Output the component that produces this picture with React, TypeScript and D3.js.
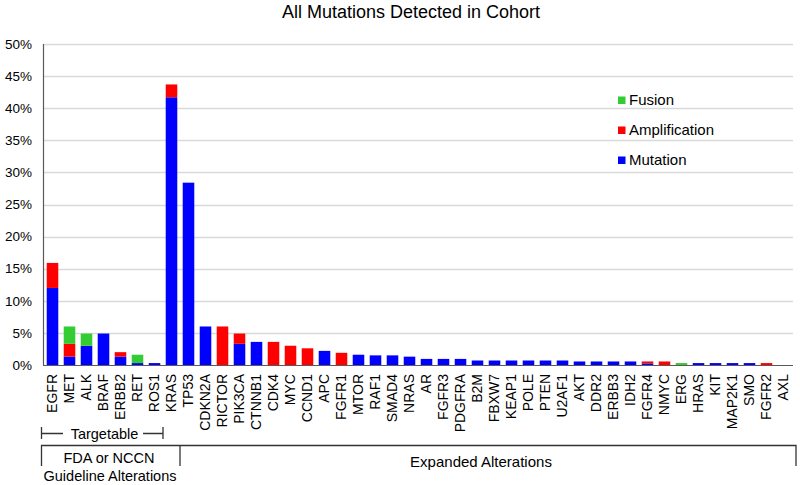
import React, { useRef, useEffect } from 'react';
import * as d3 from 'd3';

const genes = [
  'EGFR', 'MET', 'ALK', 'BRAF', 'ERBB2', 'RET', 'ROS1', 'KRAS', 'TP53', 'CDKN2A',
  'RICTOR', 'PIK3CA', 'CTNNB1', 'CDK4', 'MYC', 'CCND1', 'APC', 'FGFR1', 'MTOR', 'RAF1',
  'SMAD4', 'NRAS', 'AR', 'FGFR3', 'PDGFRA', 'B2M', 'FBXW7', 'KEAP1', 'POLE', 'PTEN',
  'U2AF1', 'AKT', 'DDR2', 'ERBB3', 'IDH2', 'FGFR4', 'NMYC', 'ERG', 'HRAS', 'KIT',
  'MAP2K1', 'SMO', 'FGFR2', 'AXL'
];

// percent of cohort
const mutation = [
  12.0, 1.3, 3.0, 4.9, 1.3, 0.3, 0.3, 41.7, 28.4, 6.0,
  0, 3.3, 3.6, 0, 0, 0, 2.2, 0, 1.6, 1.5,
  1.5, 1.3, 0.95, 0.95, 0.95, 0.7, 0.7, 0.7, 0.7, 0.7,
  0.7, 0.55, 0.55, 0.55, 0.55, 0.25, 0, 0, 0.3, 0.3,
  0.3, 0.3, 0, 0
];
const amplification = [
  3.9, 2.0, 0, 0, 0.7, 0, 0, 2.0, 0, 0,
  6.0, 1.6, 0, 3.6, 3.0, 2.6, 0, 1.9, 0, 0,
  0, 0, 0, 0, 0, 0, 0, 0, 0, 0,
  0, 0, 0, 0, 0, 0.3, 0.55, 0, 0, 0,
  0, 0, 0.3, 0
];
const fusion = [
  0, 2.7, 1.9, 0, 0, 1.3, 0, 0, 0, 0,
  0, 0, 0, 0, 0, 0, 0, 0, 0, 0,
  0, 0, 0, 0, 0, 0, 0, 0, 0, 0,
  0, 0, 0, 0, 0, 0, 0, 0.3, 0, 0,
  0, 0, 0, 0
];

const seriesKeys = ['Mutation', 'Amplification', 'Fusion'];
const seriesColors = { Mutation: '#0000ff', Amplification: '#ff0000', Fusion: '#33cc33' };
const legendOrder = ['Fusion', 'Amplification', 'Mutation'];
const yTicks = [0, 5, 10, 15, 20, 25, 30, 35, 40, 45, 50];

const FONT = '"Liberation Sans", Arial, sans-serif';

function App() {
  const svgRef = useRef(null);

  useEffect(() => {
    const svg = d3.select(svgRef.current);
    svg.selectAll('*').remove();

    const left = 43, right = 792, top = 44, bottom = 365;

    const rows = genes.map((g, i) => ({
      gene: g,
      Mutation: mutation[i],
      Amplification: amplification[i],
      Fusion: fusion[i]
    }));

    const x = d3.scaleBand()
      .domain(genes)
      .range([left + 1, right])
      .paddingInner(0.32)
      .paddingOuter(0.16);

    const y = d3.scaleLinear().domain([0, 50]).range([bottom, top]);

    // title
    svg.append('text')
      .attr('x', 411)
      .attr('y', 18)
      .attr('text-anchor', 'middle')
      .style('font-family', FONT)
      .style('font-size', '18px')
      .text('All Mutations Detected in Cohort');

    // gridlines
    svg.append('g')
      .selectAll('line')
      .data(yTicks.filter(t => t > 0))
      .enter()
      .append('line')
      .attr('x1', left)
      .attr('x2', right + 1)
      .attr('y1', d => Math.round(y(d)) + 0.5)
      .attr('y2', d => Math.round(y(d)) + 0.5)
      .attr('stroke', '#d9d9d9')
      .attr('stroke-width', 1.5);

    // y tick labels
    svg.append('g')
      .selectAll('text')
      .data(yTicks)
      .enter()
      .append('text')
      .attr('x', 32)
      .attr('y', d => y(d))
      .attr('dy', '0.35em')
      .attr('text-anchor', 'end')
      .style('font-family', FONT)
      .style('font-size', '13.5px')
      .text(d => d + '%');

    // stacked bars
    const stacked = d3.stack().keys(seriesKeys)(rows);
    svg.append('g')
      .selectAll('g')
      .data(stacked)
      .enter()
      .append('g')
      .attr('fill', d => seriesColors[d.key])
      .selectAll('rect')
      .data(d => d.filter(s => s[1] - s[0] > 0))
      .enter()
      .append('rect')
      .attr('x', d => x(d.data.gene))
      .attr('width', x.bandwidth())
      .attr('y', d => y(d[1]))
      .attr('height', d => y(d[0]) - y(d[1]));

    // axes lines
    svg.append('line')
      .attr('x1', left + 0.5).attr('x2', left + 0.5)
      .attr('y1', top).attr('y2', bottom)
      .attr('stroke', '#595959').attr('stroke-width', 1.2);
    svg.append('line')
      .attr('x1', left).attr('x2', right + 1)
      .attr('y1', bottom + 0.5).attr('y2', bottom + 0.5)
      .attr('stroke', '#595959').attr('stroke-width', 1.2);

    // x labels
    svg.append('g')
      .selectAll('text')
      .data(genes)
      .enter()
      .append('text')
      .attr('transform', d => `translate(${x(d) + x.bandwidth() / 2},374) rotate(-90)`)
      .attr('dy', '0.35em')
      .attr('text-anchor', 'end')
      .style('font-family', FONT)
      .style('font-size', '14px')
      .text(d => d);

    // legend
    const legend = svg.append('g')
      .selectAll('g')
      .data(legendOrder)
      .enter()
      .append('g')
      .attr('transform', (d, i) => `translate(618,${105 + i * 30})`);
    legend.append('rect')
      .attr('x', 0)
      .attr('y', -8.5)
      .attr('width', 7.5)
      .attr('height', 7.5)
      .attr('fill', d => seriesColors[d]);
    legend.append('text')
      .attr('x', 11)
      .attr('y', 0)
      .style('font-family', FONT)
      .style('font-size', '15px')
      .text(d => d);

    // bottom annotations
    const ann = svg.append('g')
      .attr('stroke', '#333')
      .attr('stroke-width', 1.3)
      .attr('fill', 'none');
    const tx0 = 41.5, tx1 = 163;
    ann.append('path').attr('d', `M${tx0},427V439M${tx0},433.5H63M143,433.5H${tx1}M${tx1},427V439`);
    ann.append('path').attr('d', `M${tx0},466V445.5H796V466M180,445.5V466`);

    const txt = [
      { t: 'Targetable', x: 104.5, y: 438.5, s: 14.5 },
      { t: 'FDA or NCCN', x: 109, y: 463, s: 14.5 },
      { t: 'Guideline Alterations', x: 110, y: 481, s: 14.5 },
      { t: 'Expanded Alterations', x: 481, y: 467, s: 15 }
    ];
    svg.append('g')
      .selectAll('text')
      .data(txt)
      .enter()
      .append('text')
      .attr('x', d => d.x)
      .attr('y', d => d.y)
      .attr('text-anchor', 'middle')
      .style('font-family', FONT)
      .style('font-size', d => d.s + 'px')
      .text(d => d.t);
  }, []);

  return (
    <svg
      ref={svgRef}
      width={800}
      height={485}
      style={{ position: 'absolute', left: 0, top: 0, background: '#fff' }}
    />
  );
}

export default App;
